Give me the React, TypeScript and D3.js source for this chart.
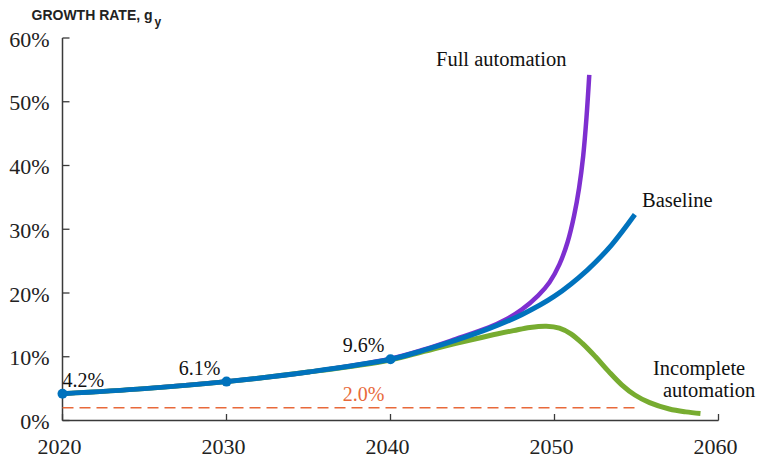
import { useEffect } from "react";
import * as d3 from "d3";

// values (year, growth rate in %)
const baselineYears = [2020, 2025, 2030, 2035, 2040, 2042, 2044, 2046, 2048, 2050, 2052, 2053.5, 2054.9];
const baselineValues = [4.2, 5.0, 6.1, 7.6, 9.6, 11.0, 12.6, 14.4, 16.6, 19.5, 23.6, 27.6, 32.3];

const fullYears = [2020, 2025, 2030, 2035, 2040, 2042, 2044, 2046, 2047, 2048, 2049, 2049.7, 2050.3, 2050.8, 2051.2, 2051.5, 2051.75, 2051.95, 2052.12];
const fullValues = [4.2, 5.0, 6.1, 7.6, 9.7, 11.1, 12.8, 14.6, 15.8, 17.4, 19.6, 21.7, 24.5, 28.0, 32.2, 36.5, 41.5, 47.5, 54.2];

const incompleteYears = [2020, 2025, 2030, 2035, 2040, 2042, 2044, 2046, 2047.5, 2048.5, 2049.5, 2050.3, 2051, 2051.7, 2052.5, 2053.3, 2054.1, 2054.9, 2055.8, 2057, 2058, 2058.9];
const incompleteValues = [4.2, 5.0, 6.1, 7.6, 9.5, 10.8, 12.1, 13.3, 14.1, 14.6, 14.8, 14.5, 13.6, 12.1, 10.0, 7.7, 5.6, 4.0, 2.8, 1.8, 1.35, 1.1];

const markerYears = [2020, 2030, 2040];
const markerValues = [4.2, 6.1, 9.6];
const markerLabels = ["4.2%", "6.1%", "9.6%"];

const floorValue = 2.0;
const floorEnd = 2055;

const xTicks = [2020, 2030, 2040, 2050, 2060];
const yTicks = [0, 10, 20, 30, 40, 50, 60];

const serif = "'Liberation Serif', 'Times New Roman', serif";
const sans = "'Liberation Sans', Arial, sans-serif";

export default function App() {
  useEffect(() => {
    document.body.style.margin = "0";
  }, []);

  const width = 759;
  const height = 458;

  const x = d3.scaleLinear().domain([2020, 2060]).range([62.5, 718.5]);
  const y = d3.scaleLinear().domain([0, 60]).range([420.5, 38]);

  const line = d3
    .line<[number, number]>()
    .x((d) => x(d[0]))
    .y((d) => y(d[1]))
    .curve(d3.curveCatmullRom.alpha(0.5));

  const pts = (ys: number[], vs: number[]) => ys.map((yr, i) => [yr, vs[i]] as [number, number]);

  const axisColor = "#3a3a3a";
  const blue = "#0072BD";
  const purple = "#7E2FD0";
  const green = "#77AC30";
  const orange = "#E8693A";

  return (
    <svg width={width} height={height} style={{ display: "block" }}>
      {/* title */}
      <text x={31.5} y={20} fontFamily={sans} fontWeight="bold" fontSize={14} fill="#222">
        GROWTH RATE, g
        <tspan fontSize={12} dx={2} dy={5.5}>y</tspan>
      </text>

      {/* axes */}
      <line x1={x(2020)} x2={x(2020)} y1={y(60)} y2={y(0)} stroke={axisColor} strokeWidth={1.5} />
      <line x1={x(2020)} x2={x(2060)} y1={y(0)} y2={y(0)} stroke={axisColor} strokeWidth={1.5} />
      {yTicks.map((t) => (
        <g key={"y" + t}>
          <line x1={x(2020)} x2={x(2020) + 7} y1={y(t)} y2={y(t)} stroke={axisColor} strokeWidth={1.3} />
          <text x={49.5} y={y(t) + 8.5} textAnchor="end" fontFamily={serif} fontSize={22} fill="#222">
            {t}%
          </text>
        </g>
      ))}
      {xTicks.map((t) => (
        <g key={"x" + t}>
          <line x1={x(t)} x2={x(t)} y1={y(0)} y2={y(0) - 6.5} stroke={axisColor} strokeWidth={1.3} />
          <text x={x(t) - 3} y={454} textAnchor="middle" fontFamily={serif} fontSize={22} fill="#222">
            {t}
          </text>
        </g>
      ))}

      {/* 2% floor */}
      <line
        x1={x(2020)}
        x2={x(floorEnd)}
        y1={y(floorValue)}
        y2={y(floorValue)}
        stroke={orange}
        strokeWidth={1.6}
        strokeDasharray="11,6"
      />
      <text x={x(2040) - 6} y={401} textAnchor="end" fontFamily={serif} fontSize={20} fill={orange}>
        {floorValue.toFixed(1)}%
      </text>

      {/* series */}
      <path d={line(pts(fullYears, fullValues)) || ""} fill="none" stroke={purple} strokeWidth={4.5} />
      <path d={line(pts(incompleteYears, incompleteValues)) || ""} fill="none" stroke={green} strokeWidth={5} />
      <path d={line(pts(baselineYears, baselineValues)) || ""} fill="none" stroke={blue} strokeWidth={5} />

      {markerYears.map((yr, i) => (
        <g key={"m" + yr}>
          <circle cx={x(yr)} cy={y(markerValues[i])} r={5} fill={blue} />
          <text
            x={i === 0 ? x(yr) : x(yr) - 6}
            y={y(markerValues[i]) - 7}
            textAnchor={i === 0 ? "start" : "end"}
            fontFamily={serif}
            fontSize={20}
            fill="#111"
          >
            {markerLabels[i]}
          </text>
        </g>
      ))}

      {/* series labels */}
      <text x={436} y={66} fontFamily={serif} fontSize={20.5} fill="#111">Full automation</text>
      <text x={642} y={207} fontFamily={serif} fontSize={20.5} fill="#111">Baseline</text>
      <text x={653} y={375} fontFamily={serif} fontSize={20.5} fill="#111">Incomplete</text>
      <text x={663} y={397} fontFamily={serif} fontSize={20.5} fill="#111">automation</text>
    </svg>
  );
}
